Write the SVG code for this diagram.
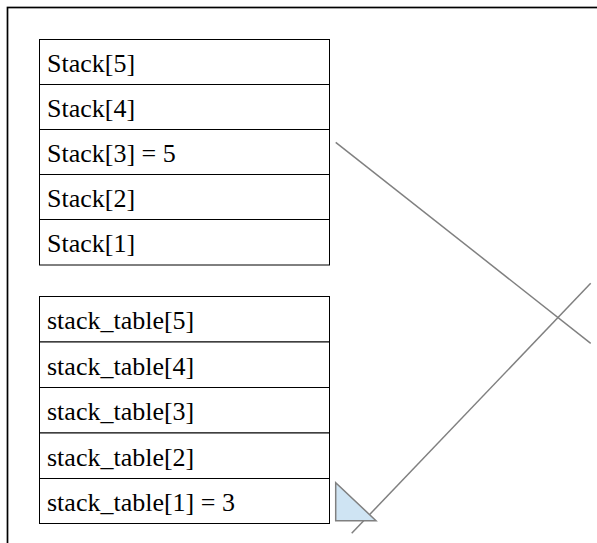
<svg xmlns="http://www.w3.org/2000/svg" width="597" height="543" viewBox="0 0 597 543">
<style>
.cell{fill:#fff;stroke:#000;stroke-width:1}
.t{font-family:"Liberation Serif","Times New Roman",serif;font-size:26px;fill:#000}
.conn{stroke:#808080;stroke-width:1.5;fill:none}
</style>
<rect width="597" height="543" fill="#fff"/>
<rect x="7.5" y="7.5" width="620" height="620" fill="none" stroke="#000" stroke-width="1.7"/>
<g id="connectors">
<line class="conn" x1="335.7" y1="142.3" x2="590.7" y2="343.3"/>
<line class="conn" x1="590.7" y1="283.3" x2="351.7" y2="533.3"/>
<polygon points="335.7,482.7 335.7,520.7 376,520.7" fill="#cfe4f3" stroke="#808080" stroke-width="1.5"/>
</g>
<g id="stack">
<g id="stack5"><rect class="cell" x="39.5" y="39.5" width="290" height="45"/><text class="t" x="47" y="72">Stack[5]</text></g>
<g id="stack4"><rect class="cell" x="39.5" y="84.5" width="290" height="45"/><text class="t" x="47" y="117">Stack[4]</text></g>
<g id="stack3"><rect class="cell" x="39.5" y="129.5" width="290" height="45"/><text class="t" x="47" y="162">Stack[3] = 5</text></g>
<g id="stack2"><rect class="cell" x="39.5" y="174.5" width="290" height="45"/><text class="t" x="47" y="207">Stack[2]</text></g>
<g id="stack1"><rect class="cell" x="39.5" y="219.5" width="290" height="45.5"/><text class="t" x="47" y="252">Stack[1]</text></g>
</g>
<g id="stack_table">
<g id="st5"><rect class="cell" x="39.5" y="296.5" width="290" height="45.5"/><text class="t" x="47" y="329">stack_table[5]</text></g>
<g id="st4"><rect class="cell" x="39.5" y="342" width="290" height="45.5"/><text class="t" x="47" y="374.5">stack_table[4]</text></g>
<g id="st3"><rect class="cell" x="39.5" y="387.5" width="290" height="45.5"/><text class="t" x="47" y="420">stack_table[3]</text></g>
<g id="st2"><rect class="cell" x="39.5" y="433" width="290" height="45.5"/><text class="t" x="47" y="465.5">stack_table[2]</text></g>
<g id="st1"><rect class="cell" x="39.5" y="478.5" width="290" height="45"/><text class="t" x="47" y="511">stack_table[1] = 3</text></g>
</g>
</svg>
